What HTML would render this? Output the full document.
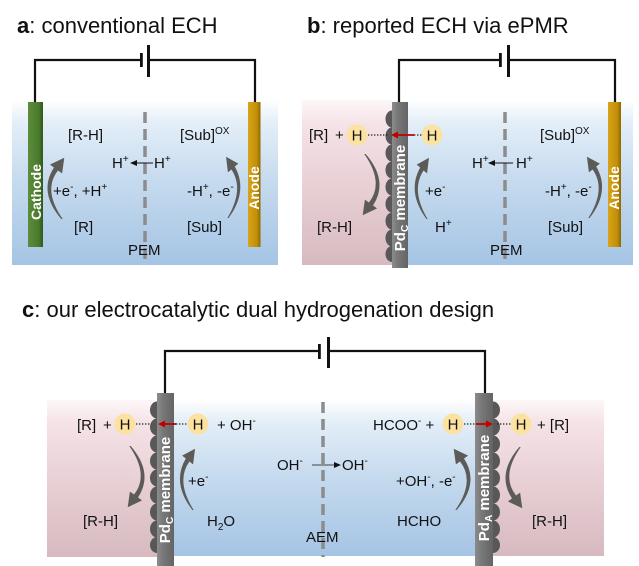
<!DOCTYPE html>
<html>
<head>
<meta charset="utf-8">
<style>
  html,body{margin:0;padding:0;background:#ffffff;}
  svg{display:block;}
  text{font-family:"Liberation Sans", Arial, sans-serif;fill:#111;}
  .lb{font-size:15px;}
  .vt{font-size:15px;font-weight:bold;fill:#ffffff;}
</style>
</head>
<body>
<svg width="639" height="566" viewBox="0 0 639 566" xmlns="http://www.w3.org/2000/svg">
<defs>
  <linearGradient id="gb" x1="0" y1="0" x2="0" y2="1">
    <stop offset="0" stop-color="#ffffff"/>
    <stop offset="0.14" stop-color="#e3eef8"/>
    <stop offset="0.5" stop-color="#c5daee"/>
    <stop offset="1" stop-color="#a5c4e4"/>
  </linearGradient>
  <linearGradient id="gp" x1="0" y1="0" x2="0" y2="1">
    <stop offset="0" stop-color="#fdf7f8"/>
    <stop offset="0.14" stop-color="#f5e3e7"/>
    <stop offset="0.5" stop-color="#e9d1d6"/>
    <stop offset="1" stop-color="#d6bac0"/>
  </linearGradient>
  <linearGradient id="gbar" x1="0" y1="0" x2="1" y2="0">
    <stop offset="0" stop-color="#8c8c8c"/>
    <stop offset="0.35" stop-color="#787878"/>
    <stop offset="1" stop-color="#646464"/>
  </linearGradient>
  <linearGradient id="ggreen" x1="0" y1="0" x2="1" y2="0">
    <stop offset="0" stop-color="#5c8d3b"/>
    <stop offset="0.7" stop-color="#4a7a2c"/>
    <stop offset="1" stop-color="#2e5819"/>
  </linearGradient>
  <linearGradient id="ggold" x1="0" y1="0" x2="1" y2="0">
    <stop offset="0" stop-color="#d8a419"/>
    <stop offset="0.7" stop-color="#c18f08"/>
    <stop offset="1" stop-color="#8e6700"/>
  </linearGradient>
  <path id="ca" d="M-0.7,0 Q-24,-27 -8.0,-51.5 L-12.1,-54.4 L2.3,-61.3 L0.1,-45.6 L-4.0,-48.5 Q-19.5,-29 0.7,0 Z" fill="#5c5b57"/>
</defs>

<!-- ================= Titles ================= -->
<text x="17" y="33" font-size="22"><tspan font-weight="bold">a</tspan>: conventional ECH</text>
<text x="307" y="33" font-size="22"><tspan font-weight="bold">b</tspan>: reported ECH via ePMR</text>
<text x="22" y="317" font-size="22"><tspan font-weight="bold">c</tspan>: our electrocatalytic dual hydrogenation design</text>

<!-- ================= Panel a ================= -->
<rect x="12" y="100" width="266" height="165" fill="url(#gb)"/>
<polyline points="35,103 35,60 140,60" fill="none" stroke="#111" stroke-width="2.2"/>
<polyline points="150,60 255,60 255,103" fill="none" stroke="#111" stroke-width="2.2"/>
<rect x="140" y="53" width="2.8" height="14" fill="#111"/>
<rect x="147" y="45" width="3" height="32" fill="#111"/>
<rect x="28" y="102" width="15" height="145" fill="url(#ggreen)"/>
<rect x="248" y="102" width="12.5" height="145" fill="url(#ggold)"/>
<line x1="145" y1="112" x2="145" y2="265" stroke="#8c8c8c" stroke-width="3.5" stroke-dasharray="11 6"/>
<g transform="translate(36,192) rotate(-90)"><text class="vt" x="0" y="5" text-anchor="middle" style="font-size:14px">Cathode</text></g>
<g transform="translate(254,188) rotate(-90)"><text class="vt" x="0" y="5" text-anchor="middle" style="font-size:14px">Anode</text></g>

<text class="lb" x="68" y="140">[R-H]</text>
<text class="lb" x="180" y="140">[Sub]<tspan dy="-6" font-size="10">OX</tspan></text>
<text class="lb" x="112" y="168">H<tspan dy="-6" font-size="10">+</tspan></text>
<line x1="136" y1="163" x2="153" y2="163" stroke="#111" stroke-width="1"/>
<polygon points="130,163 137,160 137,166" fill="#111"/>
<text class="lb" x="154" y="168">H<tspan dy="-6" font-size="10">+</tspan></text>
<text class="lb" x="53" y="196">+e<tspan dy="-6" font-size="10">-</tspan><tspan dy="6">, +H</tspan><tspan dy="-6" font-size="10">+</tspan></text>
<text class="lb" x="187" y="196">-H<tspan dy="-6" font-size="10">+</tspan><tspan dy="6">, -e</tspan><tspan dy="-6" font-size="10">-</tspan></text>
<text class="lb" x="74" y="232">[R]</text>
<text class="lb" x="187" y="232">[Sub]</text>
<text class="lb" x="128" y="255">PEM</text>
<use href="#ca" transform="translate(62,219)"/>
<use href="#ca" transform="translate(228,218) scale(-0.85,1)"/>

<!-- ================= Panel b ================= -->
<rect x="302" y="100" width="92" height="165" fill="url(#gp)"/>
<rect x="392" y="100" width="241" height="165" fill="url(#gb)"/>
<polyline points="399,103 399,60 500,60" fill="none" stroke="#111" stroke-width="2.2"/>
<polyline points="509,60 615,60 615,103" fill="none" stroke="#111" stroke-width="2.2"/>
<rect x="499" y="53" width="2.8" height="14" fill="#111"/>
<rect x="507" y="45" width="3" height="32" fill="#111"/>
<g fill="#585858">
  <ellipse cx="392" cy="119" rx="6.5" ry="8.5"/>
  <ellipse cx="392" cy="136" rx="6.5" ry="8.5"/>
  <ellipse cx="392" cy="153" rx="6.5" ry="8.5"/>
  <ellipse cx="392" cy="170" rx="6.5" ry="8.5"/>
  <ellipse cx="392" cy="187" rx="6.5" ry="8.5"/>
  <ellipse cx="392" cy="204" rx="6.5" ry="8.5"/>
  <ellipse cx="392" cy="221" rx="6.5" ry="8.5"/>
  <ellipse cx="392" cy="238" rx="6.5" ry="8.5"/>
  <ellipse cx="392" cy="254" rx="6.5" ry="8"/>
</g>
<rect x="392" y="102" width="16" height="166" fill="url(#gbar)"/>
<rect x="608" y="102" width="13" height="145" fill="url(#ggold)"/>
<line x1="505" y1="112" x2="505" y2="265" stroke="#8c8c8c" stroke-width="3.5" stroke-dasharray="11 6"/>
<g transform="translate(400,198) rotate(-90)"><text class="vt" x="0" y="5" text-anchor="middle">Pd<tspan dy="3" font-size="10">C</tspan><tspan dy="-3"> membrane</tspan></text></g>
<g transform="translate(614,188) rotate(-90)"><text class="vt" x="0" y="5" text-anchor="middle" style="font-size:14px">Anode</text></g>

<text class="lb" x="309" y="140">[R]</text>
<text class="lb" x="335" y="140">+</text>
<circle cx="357" cy="135" r="10.5" fill="#fbe2a0"/>
<text class="lb" x="357" y="140.5" text-anchor="middle">H</text>
<line x1="368" y1="135" x2="388" y2="135" stroke="#222" stroke-width="1.3" stroke-dasharray="1.4 1.6"/>
<line x1="397" y1="135" x2="414" y2="135" stroke="#c00000" stroke-width="1.8"/>
<polygon points="391,135 398,131.5 398,138.5" fill="#c00000"/>
<line x1="414" y1="135" x2="422" y2="135" stroke="#222" stroke-width="1.3" stroke-dasharray="1.4 1.6"/>
<circle cx="432" cy="135" r="10.5" fill="#fbe2a0"/>
<text class="lb" x="432" y="140.5" text-anchor="middle">H</text>
<text class="lb" x="540" y="140">[Sub]<tspan dy="-6" font-size="10">OX</tspan></text>
<text class="lb" x="472" y="168">H<tspan dy="-6" font-size="10">+</tspan></text>
<line x1="494" y1="163" x2="513" y2="163" stroke="#111" stroke-width="1"/>
<polygon points="488,163 495,160 495,166" fill="#111"/>
<text class="lb" x="516" y="168">H<tspan dy="-6" font-size="10">+</tspan></text>
<text class="lb" x="425" y="196">+e<tspan dy="-6" font-size="10">-</tspan></text>
<text class="lb" x="545" y="196">-H<tspan dy="-6" font-size="10">+</tspan><tspan dy="6">, -e</tspan><tspan dy="-6" font-size="10">-</tspan></text>
<text class="lb" x="317" y="232">[R-H]</text>
<text class="lb" x="435" y="232">H<tspan dy="-6" font-size="10">+</tspan></text>
<text class="lb" x="548" y="232">[Sub]</text>
<text class="lb" x="490" y="255">PEM</text>
<use href="#ca" transform="translate(365,154) rotate(180)"/>
<use href="#ca" transform="translate(427,219) scale(0.85,1)"/>
<use href="#ca" transform="translate(589,218) scale(-0.9,1)"/>

<!-- ================= Panel c ================= -->
<rect x="47" y="400" width="112" height="157" fill="url(#gp)"/>
<rect x="172" y="400" width="305" height="156" fill="url(#gb)"/>
<rect x="492" y="400" width="112" height="156" fill="url(#gp)"/>
<polyline points="165,394 165,351 319,351" fill="none" stroke="#111" stroke-width="2.2"/>
<polyline points="329,351 485,351 485,394" fill="none" stroke="#111" stroke-width="2.2"/>
<rect x="318" y="344" width="2.8" height="15" fill="#111"/>
<rect x="327" y="337" width="3" height="31" fill="#111"/>
<g fill="#585858">
  <ellipse cx="157" cy="410" rx="7" ry="8.5"/>
  <ellipse cx="157" cy="427" rx="7" ry="8.5"/>
  <ellipse cx="157" cy="444" rx="7" ry="8.5"/>
  <ellipse cx="157" cy="461" rx="7" ry="8.5"/>
  <ellipse cx="157" cy="478" rx="7" ry="8.5"/>
  <ellipse cx="157" cy="495" rx="7" ry="8.5"/>
  <ellipse cx="157" cy="512" rx="7" ry="8.5"/>
  <ellipse cx="157" cy="529" rx="7" ry="8.5"/>
  <ellipse cx="157" cy="545" rx="7" ry="8"/>
  <ellipse cx="493" cy="410" rx="7" ry="8.5"/>
  <ellipse cx="493" cy="427" rx="7" ry="8.5"/>
  <ellipse cx="493" cy="444" rx="7" ry="8.5"/>
  <ellipse cx="493" cy="461" rx="7" ry="8.5"/>
  <ellipse cx="493" cy="478" rx="7" ry="8.5"/>
  <ellipse cx="493" cy="495" rx="7" ry="8.5"/>
  <ellipse cx="493" cy="512" rx="7" ry="8.5"/>
  <ellipse cx="493" cy="529" rx="7" ry="8.5"/>
  <ellipse cx="493" cy="545" rx="7" ry="8"/>
</g>
<rect x="157" y="393" width="17" height="173" fill="url(#gbar)"/>
<rect x="475" y="393" width="18" height="173" fill="url(#gbar)"/>
<line x1="323" y1="402" x2="323" y2="557" stroke="#8c8c8c" stroke-width="3.5" stroke-dasharray="11 6"/>
<g transform="translate(165,490) rotate(-90)"><text class="vt" x="0" y="5" text-anchor="middle">Pd<tspan dy="3" font-size="10">C</tspan><tspan dy="-3"> membrane</tspan></text></g>
<g transform="translate(484,488) rotate(-90)"><text class="vt" x="0" y="5" text-anchor="middle">Pd<tspan dy="3" font-size="10">A</tspan><tspan dy="-3"> membrane</tspan></text></g>

<!-- left side -->
<text class="lb" x="77" y="430">[R]</text>
<text class="lb" x="103" y="430">+</text>
<circle cx="125" cy="424" r="10.5" fill="#fbe2a0"/>
<text class="lb" x="125" y="429.5" text-anchor="middle">H</text>
<line x1="136" y1="424" x2="151" y2="424" stroke="#222" stroke-width="1.3" stroke-dasharray="1.4 1.6"/>
<line x1="164" y1="424" x2="176" y2="424" stroke="#c00000" stroke-width="1.8"/>
<polygon points="158,424 165,420.5 165,427.5" fill="#c00000"/>
<line x1="176" y1="424" x2="188" y2="424" stroke="#222" stroke-width="1.3" stroke-dasharray="1.4 1.6"/>
<circle cx="198" cy="424" r="10.5" fill="#fbe2a0"/>
<text class="lb" x="198" y="429.5" text-anchor="middle">H</text>
<text class="lb" x="217" y="430">+ OH<tspan dy="-6" font-size="10">-</tspan></text>
<text class="lb" x="188" y="486">+e<tspan dy="-6" font-size="10">-</tspan></text>
<text class="lb" x="83" y="526">[R-H]</text>
<text class="lb" x="207" y="526">H<tspan dy="4" font-size="10">2</tspan><tspan dy="-4">O</tspan></text>
<use href="#ca" transform="translate(130,446) rotate(180)"/>
<use href="#ca" transform="translate(193,510) scale(0.9,1)"/>

<!-- middle -->
<text class="lb" x="277" y="470">OH<tspan dy="-6" font-size="10">-</tspan></text>
<line x1="312" y1="465" x2="335" y2="465" stroke="#444" stroke-width="1"/>
<polygon points="341,465 334,462 334,468" fill="#111"/>
<text class="lb" x="342" y="470">OH<tspan dy="-6" font-size="10">-</tspan></text>
<text class="lb" x="306" y="542">AEM</text>

<!-- right side -->
<text class="lb" x="373" y="430">HCOO<tspan dy="-6" font-size="10">-</tspan><tspan dy="6"> +</tspan></text>
<circle cx="453" cy="424" r="10.5" fill="#fbe2a0"/>
<text class="lb" x="453" y="429.5" text-anchor="middle">H</text>
<line x1="464" y1="424" x2="476" y2="424" stroke="#222" stroke-width="1.3" stroke-dasharray="1.4 1.6"/>
<line x1="476" y1="424" x2="487" y2="424" stroke="#c00000" stroke-width="1.8"/>
<polygon points="493,424 486,420.5 486,427.5" fill="#c00000"/>
<line x1="497" y1="424" x2="511" y2="424" stroke="#222" stroke-width="1.3" stroke-dasharray="1.4 1.6"/>
<circle cx="521" cy="424" r="10.5" fill="#fbe2a0"/>
<text class="lb" x="521" y="429.5" text-anchor="middle">H</text>
<text class="lb" x="537" y="430">+ [R]</text>
<text class="lb" x="396" y="486">+OH<tspan dy="-6" font-size="10">-</tspan><tspan dy="6">, -e</tspan><tspan dy="-6" font-size="10">-</tspan></text>
<text class="lb" x="397" y="526">HCHO</text>
<text class="lb" x="532" y="526">[R-H]</text>
<use href="#ca" transform="translate(456,510) scale(-1,1)"/>
<use href="#ca" transform="translate(520,447) scale(1,-1)"/>
</svg>
</body>
</html>
